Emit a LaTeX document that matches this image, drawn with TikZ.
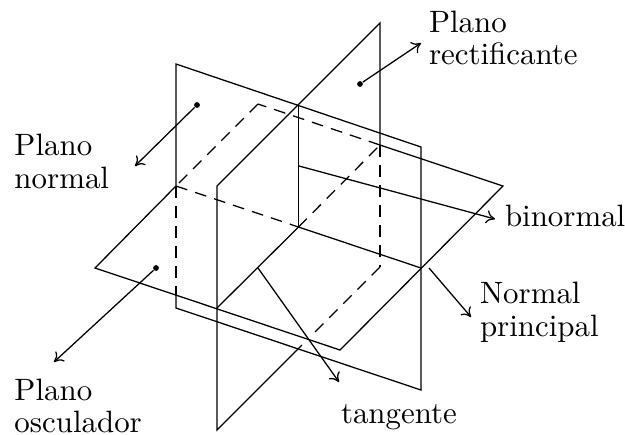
\documentclass[tikz,border=0pt]{standalone}
\usetikzlibrary{arrows.meta}
\tikzset{
  edge/.style={line width=0.42pt},
  hidden/.style={line width=0.42pt,dash pattern=on 3.9pt off 2.7pt},
  pointer/.style={line width=0.42pt,-{Computer Modern Rightarrow[length=2.9pt,width=4.4pt]}},
  spot/.style={circle,fill=black,inner sep=0pt,minimum size=1.9pt},
  lbl/.style={anchor=base west,inner sep=0pt,outer sep=0pt,font=\fontsize{10.2}{12}\selectfont},
}
\begin{document}
\begin{tikzpicture}[x=0.33pt,y=-0.33pt]
\useasboundingbox (0,0) rectangle (625,434);
% plane A
\coordinate (a1) at (176,64);
\coordinate (a2) at (421,147);
\coordinate (a3) at (421,390);
\coordinate (a4) at (176,308);
\coordinate (a5) at (176,186);
\coordinate (a6) at (176,295);
% plane B
\coordinate (b1) at (95,268);
\coordinate (b2) at (340,350);
\coordinate (b3) at (503,186);
\coordinate (b4) at (258,104);
\coordinate (b5) at (380,145);
\coordinate (b6) at (421,268);
% plane C
\coordinate (c1) at (380,23);
\coordinate (c2) at (217,186);
\coordinate (c3) at (217,430);
\coordinate (c4) at (380,267);
\coordinate (c5) at (302,345);
\coordinate (c6) at (312,335);
% centre lines
\coordinate (m1) at (298.5,105);
\coordinate (m2) at (298.5,227);
\coordinate (m3) at (217,308);
% plane A outline
\draw[edge] (a6) -- (a4) -- (a3) -- (a2) -- (a1) -- (a5);
\draw[hidden] (a5) -- (a6);
% plane B outline
\draw[edge] (a5) -- (b1) -- (b2) -- (b3) -- (b5);
\draw[hidden] (b5) -- (b4);
\draw[hidden] (b4) -- (a5);
% plane C outline
\draw[edge] (c5) -- (c3) -- (c2) -- (c1) -- (b5);
\draw[hidden] (b5) -- (c4);
\draw[hidden] (c4) -- (c6);
% intersections
\draw[edge] (m1) -- (m2);
\draw[edge] (m3) -- (m2) -- (b6);
\draw[hidden] (a5) -- (m2);
\draw[hidden] (m2) -- (b5);
% arrows
\node[spot] (d1) at (197,105) {};
\coordinate (e1) at (135,166);
\draw[pointer] (d1) -- (e1);
\node[spot] (d2) at (360,84) {};
\coordinate (e2) at (421,43);
\draw[pointer] (d2) -- (e2);
\node[spot] (d3) at (156,268) {};
\coordinate (e3) at (54,362);
\draw[pointer] (d3) -- (e3);
\coordinate (s4) at (299,166);
\coordinate (e4) at (495,219);
\draw[pointer] (s4) -- (e4);
\coordinate (s5) at (429,268);
\coordinate (e5) at (471,317);
\draw[pointer] (s5) -- (e5);
\coordinate (s6) at (258,268);
\coordinate (e6) at (339,382);
\draw[pointer] (s6) -- (e6);
% labels
\node[lbl] (t1) at (14.5,155) {Plano};
\node[lbl] (t2) at (14.5,188) {normal};
\node[lbl] (t3) at (429,32) {Plano};
\node[lbl] (t4) at (429,64) {rectificante};
\node[lbl] (t5) at (505,226) {binormal};
\node[lbl] (t6) at (480,303) {Normal};
\node[lbl] (t7) at (480,336) {principal};
\node[lbl] (t8) at (14.5,400) {Plano};
\node[lbl] (t9) at (14.5,432) {osculador};
\node[lbl] (t10) at (341,423) {tangente};
\end{tikzpicture}
\end{document}
